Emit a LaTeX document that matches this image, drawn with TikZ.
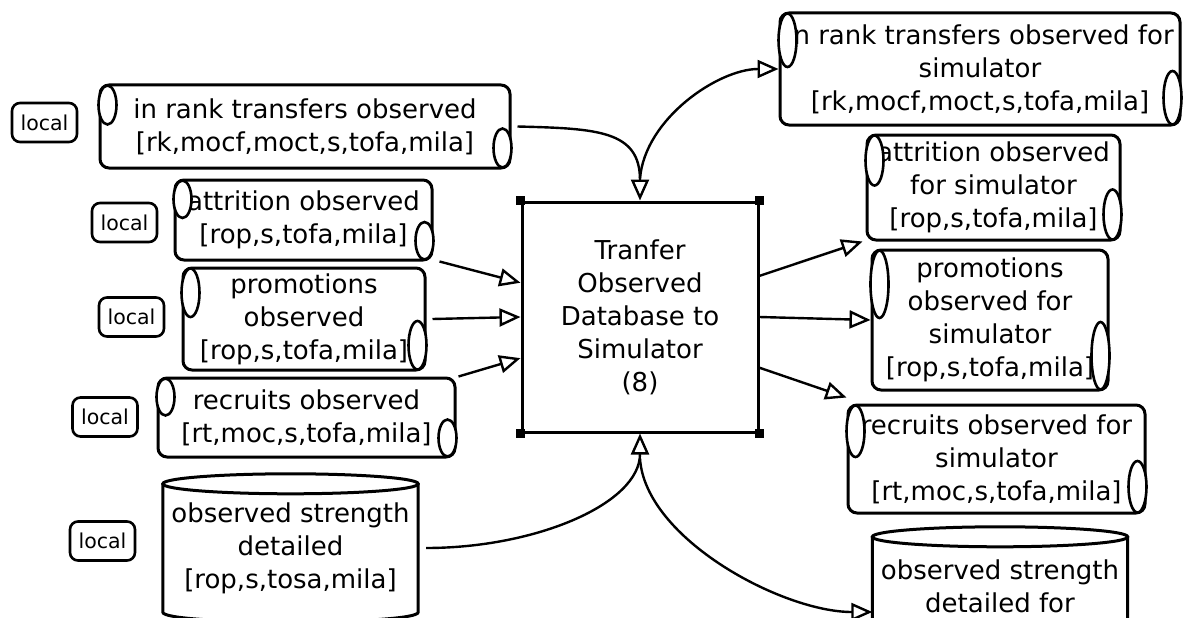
\documentclass[tikz,border=0pt]{standalone}
\usepackage{fontspec}
\setmainfont{DejaVu Sans}
\usetikzlibrary{arrows.meta,calc}
\newcommand\scrollcurls[1]{%
  \path[curl] let \p1=(#1.north west), \p2=(#1.south east), \n1={(\y1-\y2)/4} in
    (\x1+9pt,\y1-\n1) ellipse [x radius=9pt, y radius=\n1-2pt]
    (\x2-9pt,\y2+\n1) ellipse [x radius=9pt, y radius=\n1-2pt];
}
\newcommand\cylinderlines[1]{%
  \draw[cylline] (#1.north west) -- (#1.south west) .. controls +(0,13) and +(0,13) .. (#1.south east) -- (#1.north east);
  \path[cylline, fill=white] let \p1=(#1.north west), \p2=(#1.north east), \n1={(\x2-\x1)/2} in (#1.north) ellipse [x radius=\n1, y radius=10pt];
}
\begin{document}
\begin{tikzpicture}[x=1pt,y=-1pt,
  txt/.style={font=\fontsize{26}{33}\selectfont, align=center},
  scroll/.style={txt, draw, line width=3pt, rounded corners=9pt, inner sep=0pt},
  procbox/.style={txt, draw, line width=3pt, inner sep=0pt},
  cyltext/.style={txt, inner sep=0pt},
  cylline/.style={draw, line width=3pt},
  localbox/.style={draw, line width=2.6pt, rounded corners=8pt, inner sep=0pt, font=\fontsize{20.5}{24}\selectfont, minimum width=65pt, minimum height=39pt},
  curl/.style={draw, fill=white, line width=2.6pt},
  conn/.style={line width=2.4pt, -{Triangle[open, length=21pt, width=18pt]}},
]
\useasboundingbox (0,0) rectangle (1189,618);
\clip (0,0) rectangle (1189,618);

% local markers
\node[localbox] (L1) at (44.5,122.5) {local};
\node[localbox] (L2) at (124.5,222.5) {local};
\node[localbox] (L3) at (131.5,317) {local};
\node[localbox] (L4) at (105,417) {local};
\node[localbox] (L5) at (102.5,541) {local};

% left inputs
\node[scroll, minimum width=410pt, minimum height=83pt] (S1) at (305,126.5) {in rank transfers observed\\{[}rk,mocf,moct,s,tofa,mila]};
\node[scroll, minimum width=257pt, minimum height=80pt] (S2) at (303.5,220) {attrition observed\\{[}rop,s,tofa,mila]};
\node[scroll, minimum width=242pt, minimum height=102pt] (S3) at (304,319) {promotions\\observed\\{[}rop,s,tofa,mila]};
\node[scroll, minimum width=297pt, minimum height=79pt] (S4) at (306.5,417.5) {recruits observed\\{[}rt,moc,s,tofa,mila]};
\node[cyltext, minimum width=255pt, minimum height=128pt] (cylL) at (290.5,548) {observed strength\\detailed\\{[}rop,s,tosa,mila]};
\cylinderlines{cylL}

% process
\node[procbox, minimum width=236pt, minimum height=230pt] (box) at (640,317) {Tranfer\\Observed\\Database to\\Simulator\\(8)};
\foreach \a in {north west, north east, south west, south east}
  \fill (box.\a) ++(-4.5,-4.5) rectangle ++(9,9);

% right outputs
\node[scroll, minimum width=400pt, minimum height=112pt] (R1) at (980,69) {in rank transfers observed for\\simulator\\{[}rk,mocf,moct,s,tofa,mila]};
\node[scroll, minimum width=253pt, minimum height=105pt] (R2) at (993.5,187.5) {attrition observed\\for simulator\\{[}rop,s,tofa,mila]};
\node[scroll, minimum width=236pt, minimum height=140pt] (R3) at (990,320) {promotions\\observed for\\simulator\\{[}rop,s,tofa,mila]};
\node[scroll, minimum width=297pt, minimum height=108pt] (R4) at (996.5,459) {recruits observed for\\simulator\\{[}rt,moc,s,tofa,mila]};
\node[cyltext, minimum width=255pt, minimum height=98pt] (R5) at (1000,586) {observed strength\\detailed for};
\cylinderlines{R5}

\scrollcurls{S1}
\scrollcurls{S2}
\scrollcurls{S3}
\scrollcurls{S4}
\scrollcurls{R1}
\scrollcurls{R2}
\scrollcurls{R3}
\scrollcurls{R4}

% connectors
\coordinate (topout) at ([yshift=22pt]box.north);
\coordinate (botout) at ([yshift=-25pt]box.south);
\coordinate (r5in) at ([yshift=-26pt]R5.west);
\draw[conn] ([xshift=6pt]S1.east) .. controls +(80,2) and +(0,-70) .. (box.north);
\draw[conn] (topout) .. controls +(5,-60) and +(-60,0) .. (R1.west);
\draw[conn] ([xshift=6pt]S2.south east) -- (box.164);
\draw[conn] ([xshift=6pt]S3.east) -- (box.west);
\draw[conn] ([xshift=2pt]S4.north east) -- (box.199);
\draw[conn] ([xshift=8pt]cylL.east) .. controls +(110,0) and +(0,70) .. (box.south);
\draw[conn] (botout) .. controls +(5,80) and +(-90,0) .. (r5in);
\draw[conn] (box.19) -- ([xshift=-3pt]R2.south west);
\draw[conn] (box.east) -- (R3.west);
\draw[conn] (box.337) -- ([yshift=6pt]R4.north west);
\end{tikzpicture}
\end{document}
